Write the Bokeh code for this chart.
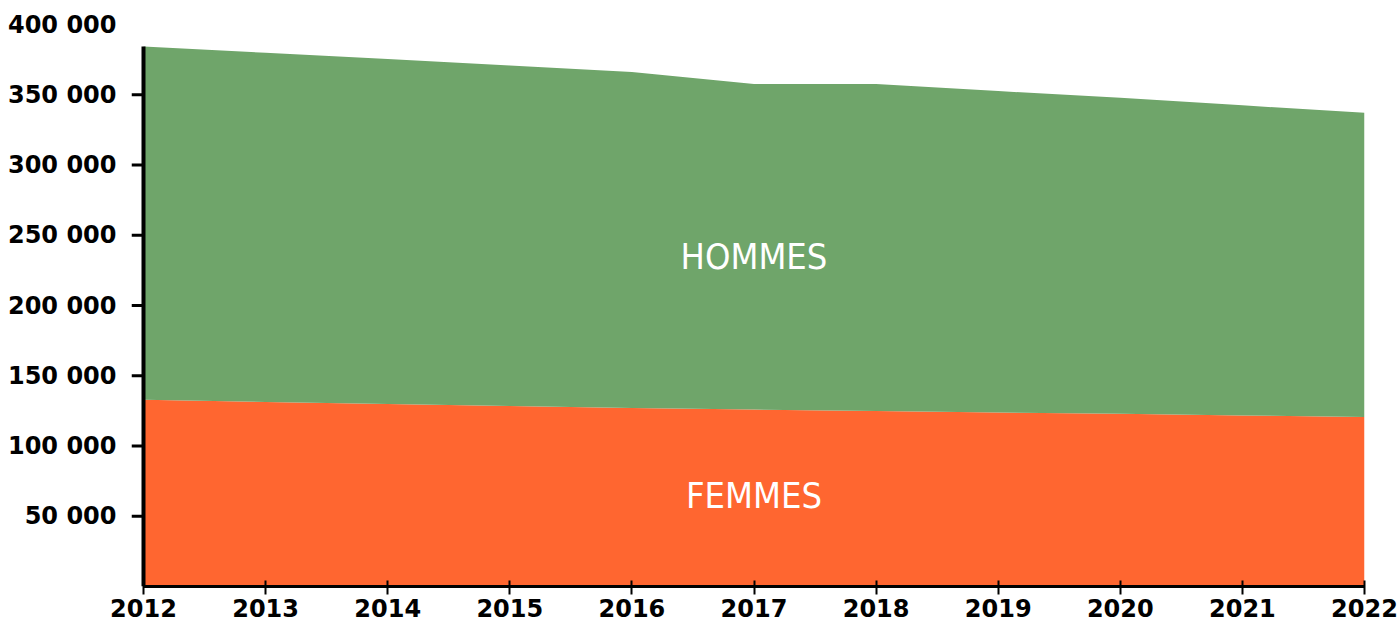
from bokeh.plotting import figure
from bokeh.models import ColumnDataSource, Range1d, FixedTicker
from bokeh.core.properties import value
from bokeh.embed import file_html
from bokeh.resources import INLINE

years = [2012, 2013, 2014, 2015, 2016, 2017, 2018, 2019, 2020, 2021, 2022]
femmes = [132900, 131400, 129900, 128500, 127000, 125900, 124900, 123900, 122900, 121700, 120700]
hommes = [251400, 248500, 245500, 242400, 239200, 231700, 232700, 228700, 225000, 220800, 216400]
series_names = ["FEMMES", "HOMMES"]
series_colors = ["#FF6630", "#6FA56A"]
y_ticks = [50000, 100000, 150000, 200000, 250000, 300000, 350000, 400000]
y_tick_labels = ["50 000", "100 000", "150 000", "200 000", "250 000", "300 000", "350 000", "400 000"]
x_tick_labels = [str(y) for y in years]

source = ColumnDataSource(data=dict(year=years, FEMMES=femmes, HOMMES=hommes))

# leave a small strip left of the first year inside the frame for the y tick marks
px_per_year = 122.1
tick_len_px = 12
x_start = years[0] - tick_len_px / px_per_year

p = figure(width=1398, height=622, output_backend="svg", toolbar_location=None,
           x_range=Range1d(x_start, years[-1]), y_range=Range1d(0, 400000),
           min_border_left=131, min_border_right=34, min_border_top=24, min_border_bottom=36)
p.outline_line_color = None
p.xgrid.visible = False
p.ygrid.visible = False
p.background_fill_color = "white"

p.varea_stack(series_names, x="year", color=series_colors, source=source)

top0 = femmes[0] + hommes[0]

# y axis line (from 0 to the top of the data) and tick marks, drawn as glyphs
p.segment(x0=[years[0]], y0=[0], x1=[years[0]], y1=[top0], line_color="black", line_width=4)
tick_vals = [t for t in y_ticks if t <= top0]
p.segment(x0=[x_start] * len(tick_vals), y0=tick_vals, x1=[years[0]] * len(tick_vals), y1=tick_vals,
          line_color="black", line_width=3)

ya = p.yaxis[0]
ya.ticker = FixedTicker(ticks=y_ticks)
ya.major_label_overrides = {t: l for t, l in zip(y_ticks, y_tick_labels)}
ya.axis_line_color = None
ya.major_tick_line_color = None
ya.minor_tick_line_color = None
ya.major_tick_in = 0
ya.major_tick_out = 0
ya.major_label_standoff = 15
ya.major_label_text_font = "DejaVu Sans"
ya.major_label_text_font_style = "bold"
ya.major_label_text_font_size = "24px"
ya.major_label_text_color = "black"

xa = p.xaxis[0]
xa.ticker = FixedTicker(ticks=years)
xa.major_label_overrides = {y: l for y, l in zip(years, x_tick_labels)}
xa.bounds = (years[0], years[-1])
xa.axis_line_width = 3
xa.axis_line_color = "black"
xa.major_tick_line_width = 2
xa.major_tick_in = 6
xa.major_tick_out = 8
xa.minor_tick_line_color = None
xa.major_label_standoff = 4
xa.major_label_text_font = "DejaVu Sans"
xa.major_label_text_font_style = "bold"
xa.major_label_text_font_size = "24px"
xa.major_label_text_color = "black"

label_src = ColumnDataSource(data=dict(x=[2017, 2017], y=[65000, 235000], t=series_names))
p.text(x="x", y="y", text="t", source=label_src, text_align="center", text_baseline="middle",
       text_font=value("DejaVu Sans Condensed"), text_font_size="36px", text_color="white")

open("out.html", "w").write(file_html(p, INLINE))
